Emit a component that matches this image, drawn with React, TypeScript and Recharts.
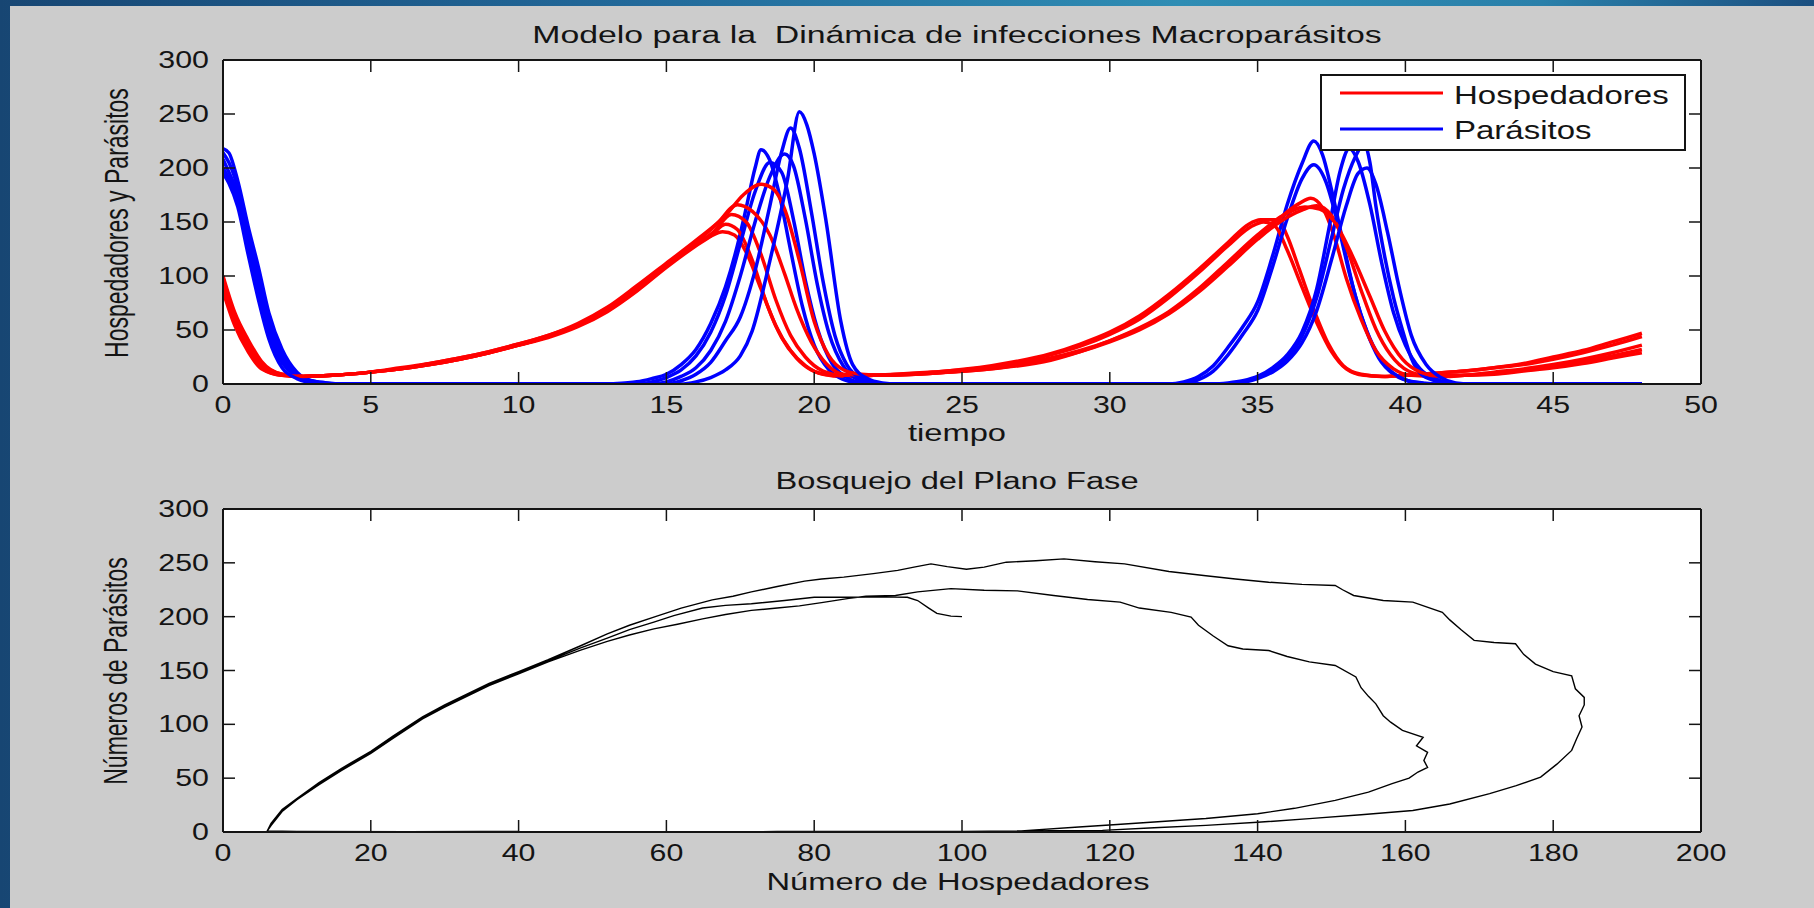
import React from "react";
import { LineChart, Line, XAxis, YAxis, Legend, CartesianGrid } from "recharts";

type Punto = [number, number];

const ticksTiempo = [0, 5, 10, 15, 20, 25, 30, 35, 40, 45, 50];
const ticksPoblacion = [0, 50, 100, 150, 200, 250, 300];
const ticksHospedadores = [0, 20, 40, 60, 80, 100, 120, 140, 160, 180, 200];

// [tiempo, hospedadores] por corrida
const hospedadores1: Punto[] = [
  [0, 100], [0.4, 66], [0.85, 41], [1.3, 21], [2, 9], [2.7, 7], [3.7, 8], [5, 11], [6, 14], [7, 18], [8, 23],
  [9, 29], [10, 36], [11, 44], [12, 54], [13, 68], [14, 87], [15, 110], [16, 129], [16.5, 137], [16.9, 141],
  [17.3, 138], [17.7, 122], [18.2, 88], [18.7, 54], [19.2, 31], [19.7, 17], [20.3, 9], [21, 7], [22, 8],
  [24, 11], [26, 17], [28, 28], [29, 37], [30, 48], [31, 63], [32, 83], [33, 106], [34, 131], [34.7, 148],
  [35.1, 152], [35.7, 152], [36, 137], [36.4, 107], [36.9, 69], [37.4, 37], [37.9, 17], [38.5, 9], [39.2, 7],
  [40, 8], [41, 10], [42, 12], [43, 15], [44, 19], [45, 25], [46, 31], [47, 39], [48, 47],
];
const hospedadores2: Punto[] = [
  [0, 98], [0.4, 63], [0.85, 38], [1.3, 19], [2, 9], [2.7, 7], [3.7, 8], [5, 11], [6, 14], [7, 18], [8, 23],
  [9, 29], [10, 36], [11, 43], [12, 53], [13, 67], [14, 86], [15, 108], [16, 128], [16.5, 137], [17, 148],
  [17.4, 143], [17.9, 115], [18.4, 74], [18.9, 43], [19.4, 24], [19.9, 13], [20.6, 8], [21.3, 7], [22, 8],
  [24, 11], [26, 16], [28, 27], [29, 35], [30, 46], [31, 60], [32, 80], [33, 103], [34, 128], [34.8, 146],
  [35.2, 150], [35.6, 146], [36, 124], [36.5, 90], [37, 57], [37.5, 30], [38, 14], [38.6, 8], [39.3, 7],
  [40, 8], [41, 10], [42, 12], [43, 15], [44, 18], [45, 23], [46, 29], [47, 36], [48, 44],
];
const hospedadores3: Punto[] = [
  [0, 95], [0.4, 60], [0.85, 35], [1.3, 17], [2, 8], [2.7, 7], [3.7, 8], [5, 11], [6, 14], [7, 18], [8, 23],
  [9, 29], [10, 36], [11, 44], [12, 54], [13, 68], [14, 87], [15, 109], [16, 129], [16.6, 141], [17.2, 157],
  [17.7, 150], [18.2, 120], [18.7, 78], [19.2, 45], [19.7, 25], [20.3, 12], [21, 8], [22, 8], [24, 10],
  [26, 15], [28, 24], [29, 31], [30, 40], [31, 51], [32, 66], [33, 87], [34, 111], [35, 136], [35.8, 155],
  [36.4, 167], [36.8, 172], [37.2, 163], [37.6, 136], [38, 98], [38.5, 60], [39, 31], [39.6, 14], [40.2, 8],
  [41, 7], [42, 8], [43, 11], [44, 14], [45, 18], [46, 23], [47, 29], [48, 36],
];
const hospedadores4: Punto[] = [
  [0, 90], [0.4, 57], [0.85, 32], [1.3, 15], [2, 8], [2.7, 7], [3.7, 8], [5, 11], [6, 14], [7, 19], [8, 24],
  [9, 30], [10, 37], [11, 45], [12, 55], [13, 70], [14, 90], [15, 111], [16, 131], [16.7, 148], [17.4, 166],
  [17.9, 160], [18.5, 138], [19, 102], [19.4, 70], [19.9, 39], [20.4, 19], [21, 9], [22, 8], [24, 10],
  [26, 14], [28, 23], [29, 30], [30, 39], [31, 50], [32, 65], [33, 85], [34, 109], [35, 134], [35.8, 151],
  [36.5, 161], [37, 165], [37.5, 156], [38, 127], [38.5, 87], [39, 51], [39.5, 27], [40.1, 12], [40.7, 8],
  [41.5, 7], [42, 8], [43, 10], [44, 13], [45, 17], [46, 21], [47, 26], [48, 32],
];
const hospedadores5: Punto[] = [
  [0, 86], [0.4, 54], [0.85, 30], [1.3, 14], [2, 8], [2.7, 7], [3.7, 8], [5, 11], [6, 15], [7, 19], [8, 24],
  [9, 30], [10, 37], [11, 45], [12, 56], [13, 71], [14, 91], [15, 112], [16, 133], [17, 156], [17.6, 175],
  [18.2, 185], [18.6, 181], [19, 162], [19.5, 114], [20, 58], [20.5, 26], [21, 13], [21.6, 9], [22.3, 8],
  [24, 10], [26, 14], [28, 22], [29, 30], [30, 40], [31, 52], [32, 67], [33, 88], [34, 113], [35, 138],
  [35.8, 155], [36.6, 164], [37.1, 162], [37.6, 150], [38.2, 119], [38.8, 81], [39.3, 49], [39.9, 23],
  [40.5, 11], [41, 8], [42, 8], [43, 9], [44, 12], [45, 15], [46, 19], [47, 24], [48, 29],
];

// [tiempo, parásitos] por corrida
const parasitos1: Punto[] = [
  [0, 218], [0.2, 214], [0.5, 188], [0.85, 146], [1.2, 108], [1.55, 66], [2, 32], [2.5, 11], [3, 3], [3.5, 1],
  [4, 0], [13, 0], [13.6, 1], [14, 2], [14.5, 5], [15, 9], [15.5, 18], [16, 32], [16.5, 56], [17, 90],
  [17.4, 128], [17.7, 163], [18, 200], [18.2, 217], [18.5, 207], [18.8, 178], [19.2, 124], [19.6, 72],
  [20, 36], [20.5, 13], [21, 4], [21.5, 1], [22, 0], [32, 0], [32.5, 2], [33, 7], [33.5, 17], [34, 34],
  [34.5, 53], [35, 76], [35.5, 118], [36, 166], [36.5, 204], [36.9, 225], [37.2, 212], [37.5, 180],
  [37.9, 130], [38.3, 82], [38.7, 48], [39.1, 24], [39.6, 9], [40.1, 3], [40.6, 1], [41, 0], [48, 0],
];
const parasitos2: Punto[] = [
  [0, 214], [0.2, 205], [0.5, 182], [0.85, 139], [1.2, 100], [1.55, 60], [2, 27], [2.5, 9], [3, 3], [3.5, 1],
  [4, 0], [14, 0], [14.5, 2], [15, 6], [15.5, 13], [16, 26], [16.5, 48], [17, 82], [17.5, 130], [18, 178],
  [18.5, 205], [18.9, 196], [19.3, 152], [19.7, 96], [20.1, 52], [20.6, 19], [21.1, 6], [21.6, 1], [22, 0],
  [32.5, 0], [33, 4], [33.5, 12], [34, 27], [34.5, 46], [35, 68], [35.5, 108], [36, 153], [36.5, 190],
  [36.9, 203], [37.3, 188], [37.7, 150], [38.1, 103], [38.5, 64], [38.9, 36], [39.4, 15], [39.9, 5],
  [40.4, 1], [41, 0], [48, 0],
];
const parasitos3: Punto[] = [
  [0, 208], [0.2, 196], [0.5, 176], [0.85, 132], [1.2, 92], [1.55, 53], [2, 23], [2.5, 8], [3, 2], [3.5, 0],
  [14.5, 0], [15, 2], [15.5, 7], [16, 15], [16.5, 31], [17, 58], [17.5, 100], [18, 150], [18.5, 192],
  [19, 213], [19.3, 202], [19.7, 153], [20.1, 93], [20.5, 47], [21, 16], [21.5, 4], [22, 1], [22.5, 0],
  [33.5, 0], [34, 1], [34.5, 3], [35, 7], [35.5, 15], [36, 27], [36.5, 48], [37, 88], [37.4, 142],
  [37.8, 198], [38.1, 218], [38.4, 206], [38.8, 166], [39.2, 112], [39.6, 66], [40, 36], [40.5, 14],
  [41, 5], [41.5, 1], [42, 0], [48, 0],
];
const parasitos4: Punto[] = [
  [0, 200], [0.2, 190], [0.5, 170], [0.85, 126], [1.2, 85], [1.55, 47], [2, 20], [2.5, 7], [3, 2], [3.5, 0],
  [15, 0], [15.5, 3], [16, 9], [16.5, 20], [17, 40], [17.5, 62], [18, 105], [18.5, 165], [18.9, 215],
  [19.2, 237], [19.5, 218], [19.9, 160], [20.3, 95], [20.7, 45], [21.1, 18], [21.6, 5], [22.1, 1], [22.6, 0],
  [34, 0], [34.5, 2], [35, 6], [35.5, 13], [36, 24], [36.5, 44], [37, 80], [37.5, 135], [37.9, 180],
  [38.3, 210], [38.6, 222], [38.8, 205], [39, 165], [39.3, 118], [39.6, 80], [39.9, 50], [40.2, 24],
  [40.5, 10], [41, 3], [41.5, 0], [48, 0],
];
const parasitos5: Punto[] = [
  [0, 195], [0.2, 186], [0.5, 164], [0.85, 120], [1.2, 78], [1.55, 42], [2, 15], [2.5, 5], [3, 1], [3.5, 0],
  [15.5, 0], [16, 2], [16.5, 6], [17, 13], [17.5, 26], [17.9, 49], [18.5, 114], [19.1, 190], [19.5, 252],
  [19.75, 240], [20, 213], [20.4, 151], [20.9, 58], [21.3, 18], [21.8, 5], [22.3, 1], [22.8, 0], [34, 0],
  [35, 5], [35.5, 11], [36, 21], [36.5, 38], [37, 68], [37.5, 115], [38, 165], [38.4, 195], [38.7, 200],
  [39, 185], [39.4, 140], [39.8, 88], [40.2, 45], [40.7, 18], [41.2, 6], [41.7, 1], [42.2, 0], [48, 0],
];

// [hospedadores, parásitos] de una corrida, en orden de tiempo
const planoFase: Punto[] = [
  [100, 200], [98.5, 200.5], [96.6, 203], [95.5, 208], [94, 215], [92.6, 218], [89, 218.5], [85, 218], [80, 218],
  [76, 215], [71.5, 212], [68, 210.5], [64.9, 208], [61, 201], [58.3, 195], [55, 188], [52, 180], [48.4, 171],
  [44, 159], [40, 148], [36, 137], [33, 127], [30, 117], [27, 106], [23, 88], [20, 74], [16, 58], [13, 45],
  [10, 31], [8, 20], [6.5, 7], [6, 1],
  [8, 0.4], [25, 0.2], [50, 0.3], [75, 0.4], [95, 0.5], [105, 0.6], [112, 1.2], [119, 1.5],
  [126, 4], [133, 6.2], [140, 9], [147, 12.4], [154, 16], [161, 20], [166, 26], [171.4, 35.6], [175, 43],
  [178.3, 51], [180.5, 63], [182.5, 75.8], [183.2, 87], [183.9, 97.5], [183.5, 108], [184.2, 118], [184.2, 125],
  [183, 133], [182.5, 145], [180, 149], [177.6, 156], [176, 165], [174.9, 174.8], [172, 176], [169.3, 178],
  [167.5, 188], [166, 197], [165, 204], [161, 213.5], [157, 215], [153, 219.7], [151.5, 225], [150.5, 229],
  [146, 230], [141.5, 232], [137, 235], [133, 238], [128, 242], [122, 249], [118, 251], [113.8, 253.7],
  [110, 252], [106, 250.6], [103, 246], [100.6, 244], [98, 246.5], [95.8, 249], [93.5, 246], [91.3, 243],
  [88, 240], [84, 236.7], [81, 235], [78.7, 233], [75, 228], [71.5, 223], [69, 219], [66.2, 215.6], [62, 208],
  [58.3, 199.6], [55, 192], [52, 184], [48.4, 173], [44, 160], [40, 149], [36, 138], [33, 128], [30, 118],
  [27, 107], [23, 89], [20, 75], [16, 59], [13, 46], [10, 31], [8, 21], [6.5, 8], [6, 1],
  [9, 0.4], [30, 0.2], [60, 0.3], [85, 0.4], [100, 0.6], [108, 1], [115.8, 4.6],
  [121, 7], [126, 9.3], [133, 12.5], [140, 17], [145, 22], [150.5, 29.4], [155, 37], [158.2, 44.9], [160.5, 50],
  [161.7, 55.7], [163, 60], [162.5, 66.5], [163, 74], [161.5, 80], [162.4, 88], [159.6, 94.4], [158, 102],
  [157, 108], [156, 119], [155, 126], [154, 134], [153.3, 144], [150.5, 154.7], [147, 158], [144, 163],
  [141.5, 168.6], [138, 170], [136, 173], [134, 182], [132, 192], [131, 199.6], [128.3, 204], [124, 208],
  [121.4, 213.5], [117, 216], [112.4, 219.7], [107.5, 224], [103, 224.5], [98.5, 226], [94, 223], [91, 219.7],
  [87, 219], [84.7, 217], [81, 213], [78, 210], [75, 208], [71.5, 205.8], [68, 202], [64.9, 198], [61.5, 193],
  [58.3, 188.7], [55, 183], [52, 177], [48.4, 169], [44, 158], [40, 147], [36, 136], [33, 126], [30, 116],
  [27, 105], [23, 87], [20, 73], [16, 57], [13, 44], [10, 30], [8, 19], [6.5, 6], [6, 1],
  [10, 0.4], [25, 0.3], [35, 0.4], [40, 0.5],
];

const leyenda = [
  { nombre: "Hospedadores", color: "#ff0000" },
  { nombre: "Parásitos", color: "#0000ff" },
];

const corridas = [
  { h: hospedadores1, p: parasitos1 },
  { h: hospedadores2, p: parasitos2 },
  { h: hospedadores3, p: parasitos3 },
  { h: hospedadores4, p: parasitos4 },
  { h: hospedadores5, p: parasitos5 },
];

const FUENTE = '"Liberation Sans", Arial, Helvetica, sans-serif';
const TINTA = "#141414";
const LARGO_TICK = 12;
// la captura original está estirada a lo ancho
const ESTIRA_TICK = 1.32;
const ESTIRA_ROTULO = 1.42;

const filas = (pts: Punto[]) => pts.map(([x, y]) => ({ x, y }));

function TickAbajo({ x, y, payload }: any) {
  return (
    <g>
      <line x1={x} x2={x} y1={y} y2={y - LARGO_TICK} stroke={TINTA} strokeWidth={1.5} />
      <text
        transform={`translate(${x},${y + 29}) scale(${ESTIRA_TICK},1)`}
        textAnchor="middle"
        fontFamily={FUENTE}
        fontSize={23}
        fill={TINTA}
      >
        {payload.value}
      </text>
    </g>
  );
}

function TickArriba({ x, y }: any) {
  return <line x1={x} x2={x} y1={y} y2={y + LARGO_TICK} stroke={TINTA} strokeWidth={1.5} />;
}

function TickIzquierda({ x, y, payload }: any) {
  return (
    <g>
      <line x1={x} x2={x + LARGO_TICK} y1={y} y2={y} stroke={TINTA} strokeWidth={1.5} />
      <text
        transform={`translate(${x - 14},${y + 8}) scale(${ESTIRA_TICK},1)`}
        textAnchor="end"
        fontFamily={FUENTE}
        fontSize={23}
        fill={TINTA}
      >
        {payload.value}
      </text>
    </g>
  );
}

function TickDerecha({ x, y }: any) {
  return <line x1={x} x2={x - LARGO_TICK} y1={y} y2={y} stroke={TINTA} strokeWidth={1.5} />;
}

const ejeComun = {
  type: "number" as const,
  allowDataOverflow: true,
  interval: 0 as const,
  tickSize: 0,
  tickMargin: 0,
  tickLine: false,
  axisLine: { stroke: TINTA, strokeWidth: 2 },
};

function CuadroLeyenda() {
  return (
    <div
      style={{
        boxSizing: "border-box",
        width: 366,
        height: 77,
        border: `2px solid ${TINTA}`,
        background: "#ffffff",
      }}
    >
      <svg width={362} height={73} style={{ display: "block" }}>
        {leyenda.map((item, i) => (
          <g key={item.nombre}>
            <line x1={18} x2={121} y1={17 + i * 36} y2={17 + i * 36} stroke={item.color} strokeWidth={3} />
            <text
              transform={`translate(132,${28 + i * 35}) scale(1.27,1)`}
              fontFamily={FUENTE}
              fontSize={26}
              fill={TINTA}
            >
              {item.nombre}
            </text>
          </g>
        ))}
      </svg>
    </div>
  );
}

function Rotulo({
  texto,
  x,
  y,
  girar = false,
  estira = ESTIRA_ROTULO,
}: {
  texto: string;
  x: number;
  y: number;
  girar?: boolean;
  estira?: number;
}) {
  return (
    <div
      style={{
        position: "absolute",
        left: x,
        top: y,
        fontFamily: FUENTE,
        fontSize: 23,
        lineHeight: "23px",
        color: TINTA,
        whiteSpace: "pre",
        transform: `translate(-50%, -50%) scaleX(${estira})${girar ? " rotate(-90deg)" : ""}`,
      }}
    >
      {texto}
    </div>
  );
}

function GraficaTiempo() {
  return (
    <LineChart width={1814} height={450} margin={{ top: 59, right: 112, bottom: 65, left: 222 }}>
      <CartesianGrid horizontal={false} vertical={false} fill="#ffffff" fillOpacity={1} />
      {corridas.flatMap((c, i) => [
        <Line
          key={`h${i}`}
          data={filas(c.h)}
          dataKey="y"
          name="Hospedadores"
          type="monotone"
          stroke="#ff0000"
          strokeWidth={3.5}
          dot={false}
          isAnimationActive={false}
        />,
        <Line
          key={`p${i}`}
          data={filas(c.p)}
          dataKey="y"
          name="Parásitos"
          type="monotone"
          stroke="#0000ff"
          strokeWidth={3.5}
          dot={false}
          isAnimationActive={false}
        />,
      ])}
      <XAxis {...ejeComun} dataKey="x" domain={[0, 50]} ticks={ticksTiempo} height={1} tick={(p: any) => <TickAbajo {...p} />} />
      <XAxis
        {...ejeComun}
        xAxisId="arriba"
        orientation="top"
        dataKey="x"
        domain={[0, 50]}
        ticks={ticksTiempo}
        height={1}
        tick={(p: any) => <TickArriba {...p} />}
      />
      <YAxis {...ejeComun} domain={[0, 300]} ticks={ticksPoblacion} width={1} tick={(p: any) => <TickIzquierda {...p} />} />
      <YAxis
        {...ejeComun}
        yAxisId="derecha"
        orientation="right"
        domain={[0, 300]}
        ticks={ticksPoblacion}
        width={1}
        tick={(p: any) => <TickDerecha {...p} />}
      />
      <Legend
        layout="horizontal"
        verticalAlign="middle"
        align="center"
        content={() => <CuadroLeyenda />}
        wrapperStyle={{ left: 1320, top: 74, width: 366, height: 77 }}
      />
    </LineChart>
  );
}

function GraficaFase() {
  return (
    <LineChart width={1814} height={458} margin={{ top: 58, right: 112, bottom: 75, left: 222 }}>
      <CartesianGrid horizontal={false} vertical={false} fill="#ffffff" fillOpacity={1} />
      <Line
        data={filas(planoFase)}
        dataKey="y"
        name="Plano fase"
        type="linear"
        stroke="#000000"
        strokeWidth={1.4}
        dot={false}
        isAnimationActive={false}
      />
      <XAxis {...ejeComun} dataKey="x" domain={[0, 200]} ticks={ticksHospedadores} height={1} tick={(p: any) => <TickAbajo {...p} />} />
      <XAxis
        {...ejeComun}
        xAxisId="arriba"
        orientation="top"
        dataKey="x"
        domain={[0, 200]}
        ticks={ticksHospedadores}
        height={1}
        tick={(p: any) => <TickArriba {...p} />}
      />
      <YAxis {...ejeComun} domain={[0, 300]} ticks={ticksPoblacion} width={1} tick={(p: any) => <TickIzquierda {...p} />} />
      <YAxis
        {...ejeComun}
        yAxisId="derecha"
        orientation="right"
        domain={[0, 300]}
        ticks={ticksPoblacion}
        width={1}
        tick={(p: any) => <TickDerecha {...p} />}
      />
    </LineChart>
  );
}

export default function App() {
  return (
    <div
      style={{
        position: "fixed",
        left: 0,
        top: 0,
        width: 1814,
        height: 908,
        overflow: "hidden",
        background: "linear-gradient(90deg, #174673 0%, #22699a 35%, #2f8db4 65%, #2a80aa 85%, #1b4f80 100%)",
      }}
    >
      <div style={{ position: "absolute", left: 10, top: 6, right: 0, bottom: 0, background: "#cccccc" }} />
      <div style={{ position: "absolute", left: 0, top: 0 }}>
        <GraficaTiempo />
      </div>
      <div style={{ position: "absolute", left: 0, top: 450 }}>
        <GraficaFase />
      </div>
      <Rotulo texto="Modelo para la  Dinámica de infecciones Macroparásitos" x={957} y={35} estira={1.47} />
      <Rotulo texto="tiempo" x={957} y={433} />
      <Rotulo texto="Hospedadores y Parásitos" x={117} y={223} girar />
      <Rotulo texto="Bosquejo del Plano Fase" x={957} y={481} />
      <Rotulo texto="Número de Hospedadores" x={958} y={882} />
      <Rotulo texto="Números de Parásitos" x={116} y={671} girar />
    </div>
  );
}
